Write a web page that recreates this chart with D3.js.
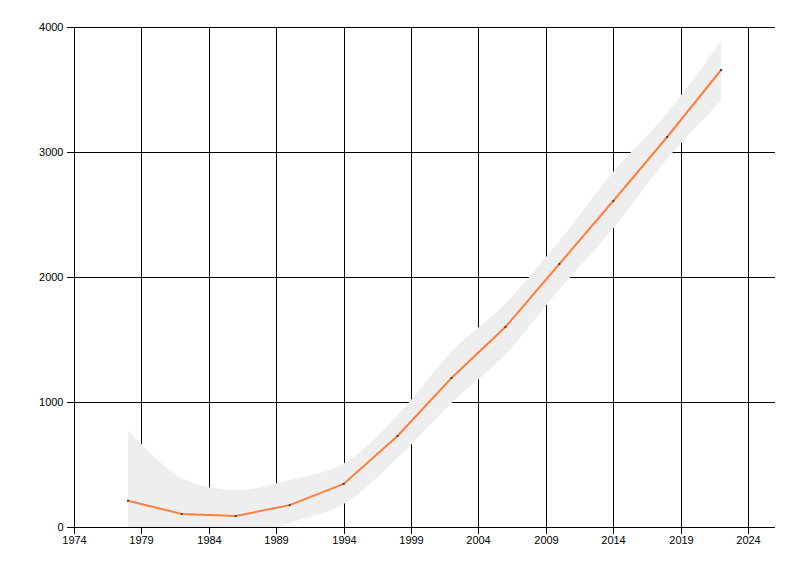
<!DOCTYPE html>
<html><head><meta charset="utf-8">
<script src="https://cdn.jsdelivr.net/npm/d3@7"></script>
<style>body{margin:0;background:#fff}svg{display:block}</style>
</head><body>
<svg id="c" width="800" height="576"></svg>
<script>
const years  = [1978,1982,1986,1990,1994,1998,2002,2006,2010,2014,2018,2022];
const values = [210,104,88,175,345,728,1192,1600,2104,2608,3120,3656];
const upper  = [776,392,296,376,509,896,1403,1790,2290,2843,3310,3888];
const lower  = [-420,-260,-120,30,184,552,992,1380,1900,2389,2945,3410];
const xTicks = [1974,1979,1984,1989,1994,1999,2004,2009,2014,2019,2024];
const yTicks = [0,1000,2000,3000,4000];

const svg = d3.select("#c");
const L=74,R=775,T=27,B=527;
const x = d3.scaleLinear().domain([1974,2026]).range([L,R]);
const y = d3.scaleLinear().domain([0,4000]).range([B,T]);
const font = "'Liberation Sans', Arial, sans-serif";

// grid
const g = svg.append("g").attr("shape-rendering","crispEdges");
g.selectAll(".vg").data(xTicks).join("line")
 .attr("x1",d=>Math.round(x(d))+0.5).attr("x2",d=>Math.round(x(d))+0.5)
 .attr("y1",T).attr("y2",B).attr("stroke","#000");
g.selectAll(".hg").data(yTicks).join("line")
 .attr("x1",L).attr("x2",R)
 .attr("y1",d=>Math.round(y(d))+0.5).attr("y2",d=>Math.round(y(d))+0.5).attr("stroke","#000");

// band
svg.append("clipPath").attr("id","clip").append("rect")
 .attr("x",L).attr("y",0).attr("width",R-L).attr("height",B);
const band = years.map((yr,i)=>({yr,u:upper[i],l:lower[i]}));
svg.append("path").datum(band).attr("clip-path","url(#clip)")
 .attr("fill","#eeeeee")
 .attr("d",d3.area().curve(d3.curveCatmullRom.alpha(0.5))
   .x(d=>x(d.yr)).y0(d=>y(d.l)).y1(d=>y(d.u)));

// line
const pts = years.map((yr,i)=>({yr,v:values[i]}));
svg.append("path").datum(pts).attr("fill","none").attr("stroke","#ff7f3a")
 .attr("stroke-width",2).attr("d",d3.line().x(d=>x(d.yr)).y(d=>y(d.v)));
svg.selectAll(".pt").data(pts).join("rect")
 .attr("x",d=>x(d.yr)-1).attr("y",d=>y(d.v)-1).attr("width",2).attr("height",2)
 .attr("fill","#444");

// axes
const ax = svg.append("g").attr("transform",`translate(0,${B+0.5})`)
 .call(d3.axisBottom(x).tickValues(xTicks).tickFormat(d3.format("d")).tickSize(6).tickPadding(3));
ax.select(".domain").attr("d",`M${L},0H${R}`).attr("stroke","#000");
ax.selectAll(".tick line").attr("stroke","#000");
ax.selectAll("text").attr("font-family",font).attr("font-size",11).attr("fill","#000");
ax.attr("shape-rendering","crispEdges");
ax.selectAll(".tick").attr("transform",d=>`translate(${Math.round(x(d))+0.5},0)`);

const ay = svg.append("g").attr("transform",`translate(${L+0.5},0)`)
 .call(d3.axisLeft(y).tickValues(yTicks).tickFormat(d3.format("d")).tickSize(8).tickPadding(3));
ay.select(".domain").attr("d",`M0,${T}V${B}`).attr("stroke","#000");
ay.selectAll(".tick line").attr("stroke","#000");
ay.selectAll("text").attr("font-family",font).attr("font-size",11).attr("fill","#000");
ay.attr("shape-rendering","crispEdges");
ay.selectAll(".tick").attr("transform",d=>`translate(0,${Math.round(y(d))+0.5})`);
</script>
</body></html>
